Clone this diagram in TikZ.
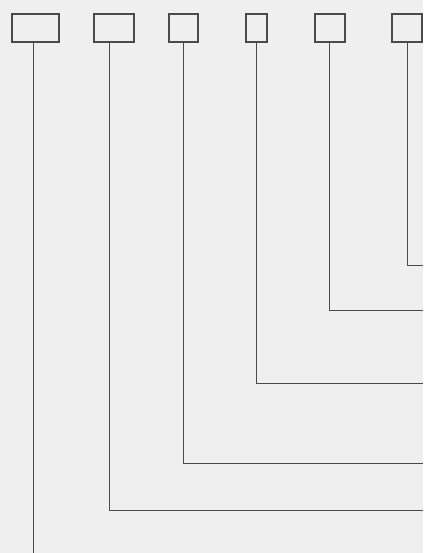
\documentclass[tikz,border=0pt]{standalone}
\usepackage{tikz}
\definecolor{paper}{HTML}{EFEFEF}
\definecolor{ink}{HTML}{4A4A4A}
\tikzset{
  slotbox/.style={draw=ink,line width=1.2pt,fill=paper,inner sep=0pt,
    minimum height=28pt},
  leadline/.style={draw=ink,line width=0.9pt},
  every picture/.style={font=\small}
}

\begin{document}
\begin{tikzpicture}[x=1pt,y=-1pt]
  \fill[paper] (0,0) rectangle (423,553);
  \useasboundingbox (0,0) rectangle (423,553);
  % boxes along the top
  \node[slotbox,minimum width=47pt] (b1) at (35.5,28) {};
  \node[slotbox,minimum width=40pt] (b2) at (114,28) {};
  \node[slotbox,minimum width=29pt] (b3) at (183.5,28) {};
  \node[slotbox,minimum width=21pt] (b4) at (256.5,28) {};
  \node[slotbox,minimum width=30pt] (b5) at (330,28) {};
  \node[slotbox,minimum width=30pt] (b6) at (407,28) {};
  % free ends at the right and bottom edges
  \coordinate (e1) at (33,553);
  \coordinate (e2) at (423,510);
  \coordinate (e3) at (423,463);
  \coordinate (e4) at (423,383);
  \coordinate (e5) at (423,310);
  \coordinate (e6) at (423,265);
  \draw[leadline] ([xshift=-2.5pt]b1.south) -- (e1);
  \draw[leadline] ([xshift=-5pt]b2.south) |- (e2);
  \draw[leadline] (b3.south) |- (e3);
  \draw[leadline] (b4.south) |- (e4);
  \draw[leadline] ([xshift=-1pt]b5.south) |- (e5);
  \draw[leadline] (b6.south) |- (e6);
\end{tikzpicture}
\end{document}
